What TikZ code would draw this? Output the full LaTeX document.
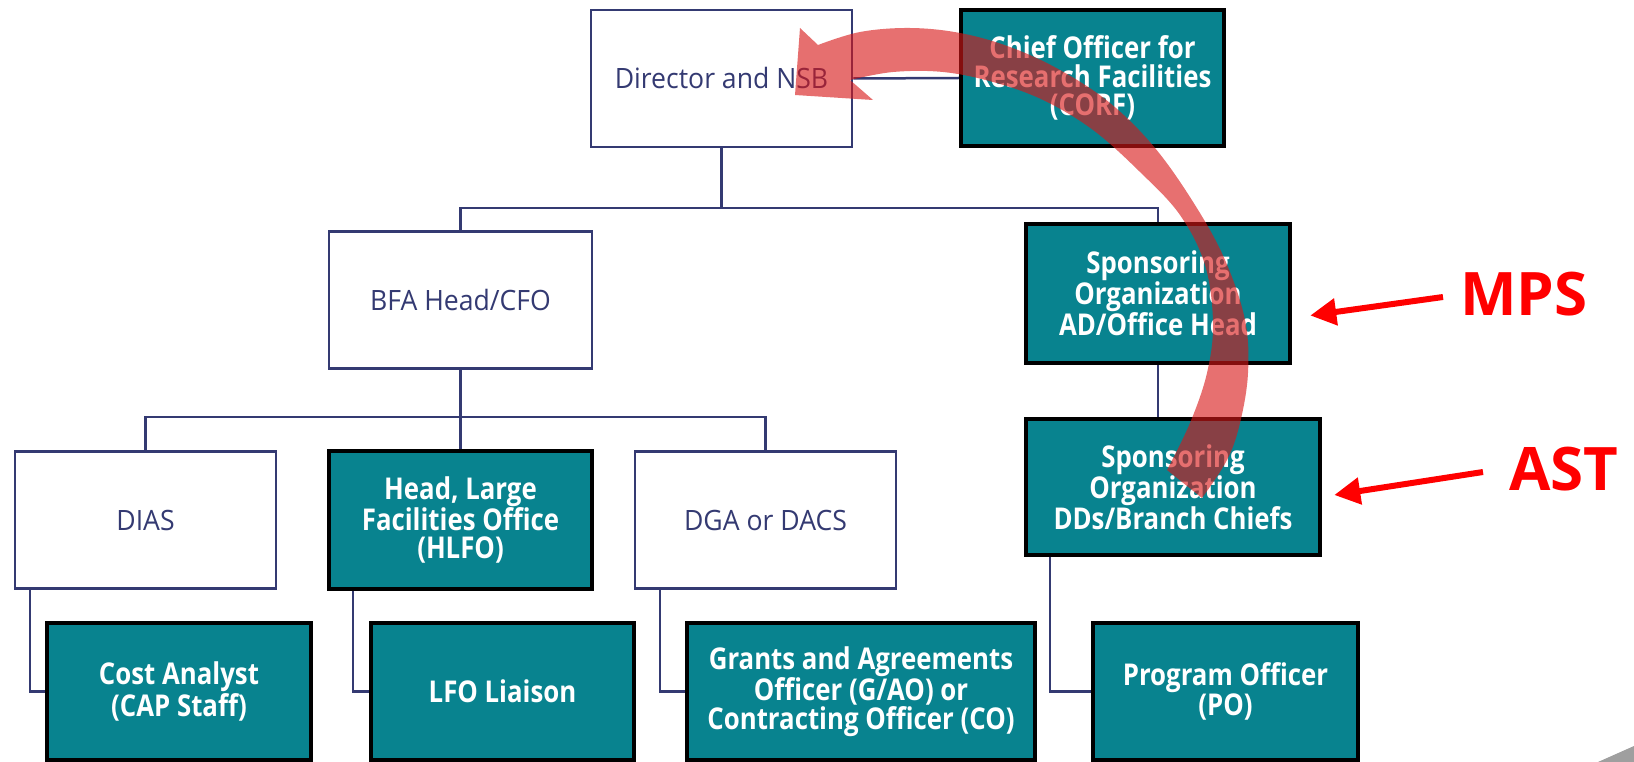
\documentclass[tikz,border=0pt]{standalone}
\usepackage{fontspec}
\setmainfont{Open Sans}
\newfontfamily\plainfont[FakeStretch=0.95]{Open Sans}
\newfontfamily\tealfont[FakeStretch=0.86]{Open Sans}
\usepackage{tikz}
\usetikzlibrary{arrows.meta}
\definecolor{chartnavy}{HTML}{343A72}
\definecolor{chartteal}{HTML}{08838F}
\definecolor{calloutred}{HTML}{FF0000}
\definecolor{swooshred}{HTML}{D81818}
\tikzset{
  plainbox/.style={
    draw=chartnavy,line width=2.5pt,fill=white,text=chartnavy,
    minimum width=261pt,minimum height=137pt,align=center,
    font=\plainfont\fontsize{28}{30}\selectfont,
  },
  tealbox/.style={
    draw=black,line width=4.5pt,fill=chartteal,text=white,
    minimum width=263pt,minimum height=136pt,align=center,
    font=\tealfont\bfseries\fontsize{30}{28.5}\selectfont,
  },
  link/.style={draw=chartnavy,line width=2.5pt},
  pointer/.style={draw=calloutred,line width=6pt,-{Triangle[length=26pt,width=26pt]}},
  unitlabel/.style={text=calloutred,font=\bfseries\fontsize{60}{60}\selectfont},
  swoosh/.style={fill=swooshred,fill opacity=0.62},
}

\begin{document}
\begin{tikzpicture}[x=1pt,y=-1pt]
    \useasboundingbox (0,0) rectangle (1634,762);

    % bus points of the tree
    \coordinate (topbus) at (721.5,208);
    \coordinate (lowbus) at (460.5,417);

    % boxes
    \node[plainbox] (director) at (721.5,78.5) {Director and NSB};
    \node[tealbox] (corf) at (1092.5,78) {Chief Officer for\\Research Facilities\\(CORF)};
    \node[plainbox, minimum width=263pt] (bfa) at (460.5,300) {BFA Head/CFO};
    \node[tealbox, minimum width=264pt, minimum height=139pt] (sponsad) at (1158,293.5) {Sponsoring\\Organization\\AD/Office Head};
    \node[tealbox, minimum width=294pt] (sponsdd) at (1173,487) {Sponsoring\\Organization\\DDs/Branch Chiefs};
    \node[plainbox] (dias) at (145.5,520) {DIAS};
    \node[tealbox, minimum height=138pt] (hlfo) at (460.5,520) {Head, Large\\Facilities Office\\(HLFO)};
    \node[plainbox] (dga) at (765.5,520) {DGA or DACS};
    \node[tealbox, minimum width=264pt, minimum height=137pt] (cost) at (179,691.5) {Cost Analyst\\(CAP Staff)};
    \node[tealbox, minimum height=137pt] (lfo) at (502.5,691.5) {LFO Liaison};
    \node[tealbox, minimum width=348pt, minimum height=137pt] (grants) at (861,691.5) {Grants and Agreements\\Officer (G/AO) or\\Contracting Officer (CO)};
    \node[tealbox, minimum width=265pt, minimum height=137pt] (po) at (1225.5,691.5) {Program Officer\\(PO)};

    % tree lines
    \draw[link] (director.east) -- (corf.west);
    \draw[link] (director.south) -- (topbus);
    \draw[link] (bfa.north) |- (topbus) -| (sponsad.north);
    \draw[link] (sponsad.south) -- (sponsad.south |- sponsdd.north);
    \draw[link] (bfa.south) -- (hlfo.north);
    \draw[link] (dias.north) |- (lowbus) -| (dga.north);
    \draw[link] ([xshift=16pt]dias.south west) |- (cost.west);
    \draw[link] ([xshift=26pt]hlfo.south west) |- (lfo.west);
    \draw[link] ([xshift=26pt]dga.south west) |- (grants.west);
    \draw[link] ([xshift=26pt]sponsdd.south west) |- (po.west);

    % big curved arrow from the sponsoring boxes up to the director
    \fill[swoosh] (795,95) -- (800,28) -- (818,45)
      -- plot[smooth,tension=0.6] coordinates {(818,45) (860,32) (910,28) (960,33) (1010,47) (1060,70) (1110,103) (1155,148) (1195,205) (1225,260) (1245,320) (1248,373) (1240,423) (1227,460) (1202,498)}
      -- (1167,470)
      -- plot[smooth,tension=0.6] coordinates {(1167,470) (1190,423) (1207,373) (1213,323) (1205,265) (1180,215) (1140,172) (1093,130) (1043,100) (993,82) (943,72) (893,72) (850,80)}
      -- (873,100) -- cycle;

    % unit labels
    \node[unitlabel] (mps) at (1524,294) {MPS};
    \node[unitlabel] (ast) at (1564,469) {AST};
    \coordinate (mpstail) at (1443,297);
    \coordinate (asttail) at (1483,472);
    \draw[pointer] (mpstail) -- ([xshift=18pt,yshift=-22pt]sponsad.east);
    \draw[pointer] (asttail) -- ([xshift=12pt,yshift=-8pt]sponsdd.east);

    % corner of the slide decoration
    \fill[gray!75] (1598,762) -- (1634,746) -- (1634,762) -- cycle;
\end{tikzpicture}
\end{document}
